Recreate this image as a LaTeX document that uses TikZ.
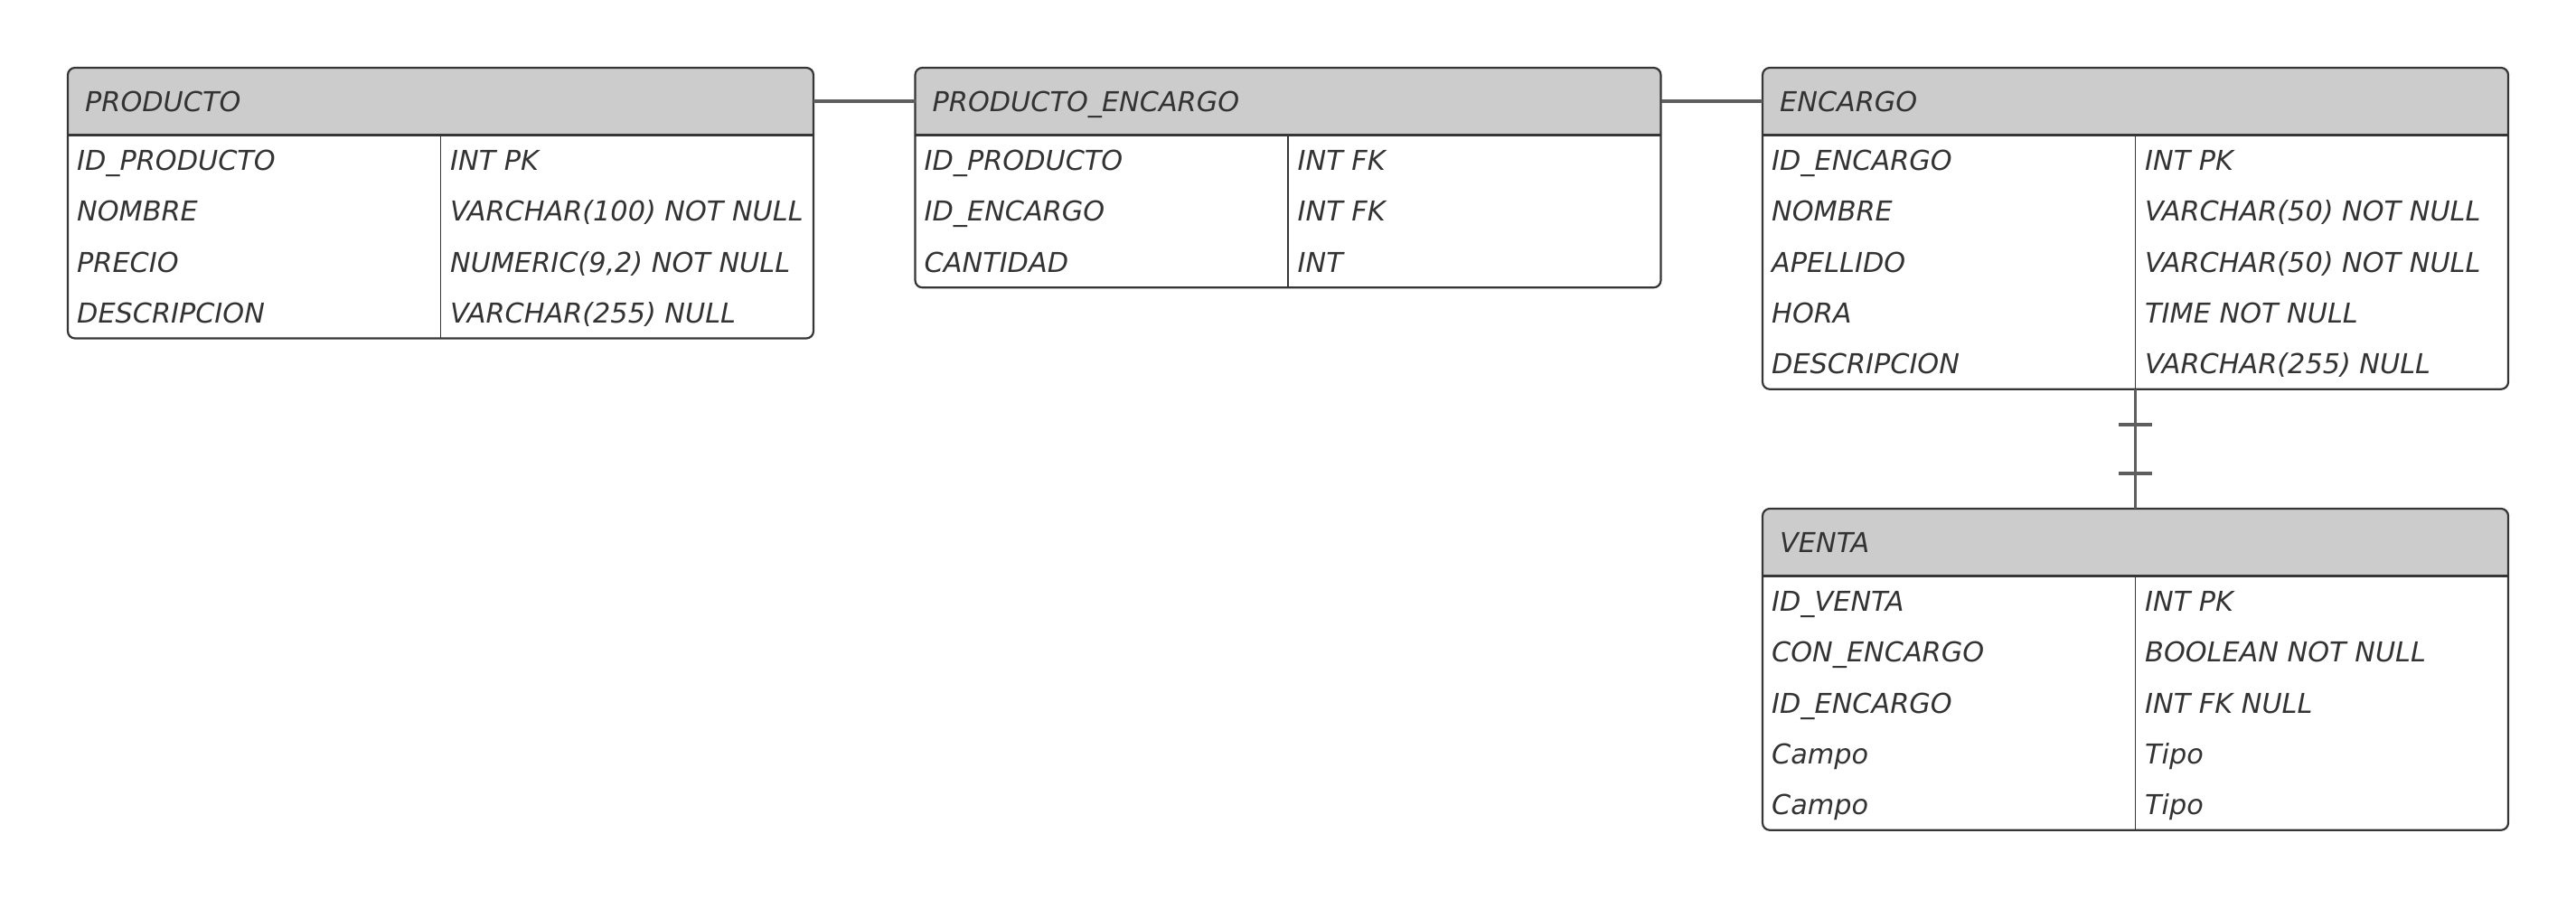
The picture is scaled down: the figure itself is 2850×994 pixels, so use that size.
\documentclass[tikz,border=0pt]{standalone}
\usepackage{fontspec}
\setmainfont{DejaVu Sans}
\usetikzlibrary{calc}
\definecolor{hdrgray}{HTML}{CCCCCC}
\definecolor{edgegray}{HTML}{363636}
\definecolor{txtgray}{HTML}{333333}
\definecolor{conngray}{HTML}{5E5E5E}
\tikzset{
  tblbox/.style={draw=edgegray, line width=2.2pt, rounded corners=8pt, minimum width=825pt, inner sep=0pt, outer sep=0pt},
  hdrbox/.style={minimum width=825pt, minimum height=74.5pt, inner sep=0pt, outer sep=0pt},
  titletxt/.style={font=\fontsize{30.3}{35}\selectfont\itshape, text=txtgray, anchor=base west, inner sep=0pt},
  celltxt/.style={font=\fontsize{30.3}{35}\selectfont\itshape, text=txtgray, anchor=base west, inner sep=0pt},
  conn/.style={draw=conngray, line width=3.8pt},
  sepline/.style={draw=edgegray, line width=2.2pt},
  divline/.style={draw=edgegray, line width=1.8pt},
}
% #1 name, #2 left, #3 top, #4 number of rows, #5 title, #6 rows
\newcommand{\ertable}[6]{%
  \pgfmathsetmacro{\tblh}{74.5+#4*56.25}%
  \begin{scope}
    \clip (#2,#3) rectangle ++(825,74.5);
    \fill[hdrgray, rounded corners=8pt] (#2,#3) rectangle ++(825,\tblh);
  \end{scope}
  \node[tblbox, minimum height=\tblh pt, anchor=north west] (#1) at (#2,#3) {};
  \node[hdrbox, anchor=north west] (#1-h) at (#2,#3) {};
  \node[titletxt] (#1-t) at ($(#1-h.west)+(19,11)$) {#5};
  \draw[sepline] (#1-h.south west) -- (#1-h.south east);
  \draw[divline] (#1-h.south) -- (#1.south);
  \foreach \fk/\fv [count=\i] in {#6} {
    \node[celltxt] (#1-k\i) at ($(#1-h.south west)+(10,{(\i-0.5)*56.25+11})$) {\fk};
    \node[celltxt] (#1-v\i) at ($(#1-h.south)+(10.5,{(\i-0.5)*56.25+11})$) {\fv};
  }
}
\begin{document}
\begin{tikzpicture}[x=1pt,y=-1pt]
  \useasboundingbox (0,0) rectangle (2850,994);
  \ertable{prod}{75}{75}{4}{PRODUCTO}{ID\_PRODUCTO/INT PK, NOMBRE/VARCHAR(100) NOT NULL, PRECIO/{NUMERIC(9,2) NOT NULL}, DESCRIPCION/VARCHAR(255) NULL}
  \ertable{pe}{1012.5}{75}{3}{PRODUCTO\_ENCARGO}{ID\_PRODUCTO/INT FK, ID\_ENCARGO/INT FK, CANTIDAD/INT}
  \ertable{enc}{1950}{75}{5}{ENCARGO}{ID\_ENCARGO/INT PK, NOMBRE/VARCHAR(50) NOT NULL, APELLIDO/VARCHAR(50) NOT NULL, HORA/TIME NOT NULL, DESCRIPCION/VARCHAR(255) NULL}
  \ertable{ven}{1950}{563}{5}{VENTA}{ID\_VENTA/INT PK, CON\_ENCARGO/BOOLEAN NOT NULL, ID\_ENCARGO/INT FK NULL, Campo/Tipo, Campo/Tipo}
  \draw[conn] (prod-h.east) -- (pe-h.west);
  \draw[conn] (pe-h.east) -- (enc-h.west);
  \draw[conn] (enc.south) -- coordinate[pos=0.295] (tk1) coordinate[pos=0.705] (tk2) (ven.north);
  \draw[conn] ([xshift=-18.5pt]tk1) -- ([xshift=18.5pt]tk1);
  \draw[conn] ([xshift=-18.5pt]tk2) -- ([xshift=18.5pt]tk2);
\end{tikzpicture}
\end{document}
